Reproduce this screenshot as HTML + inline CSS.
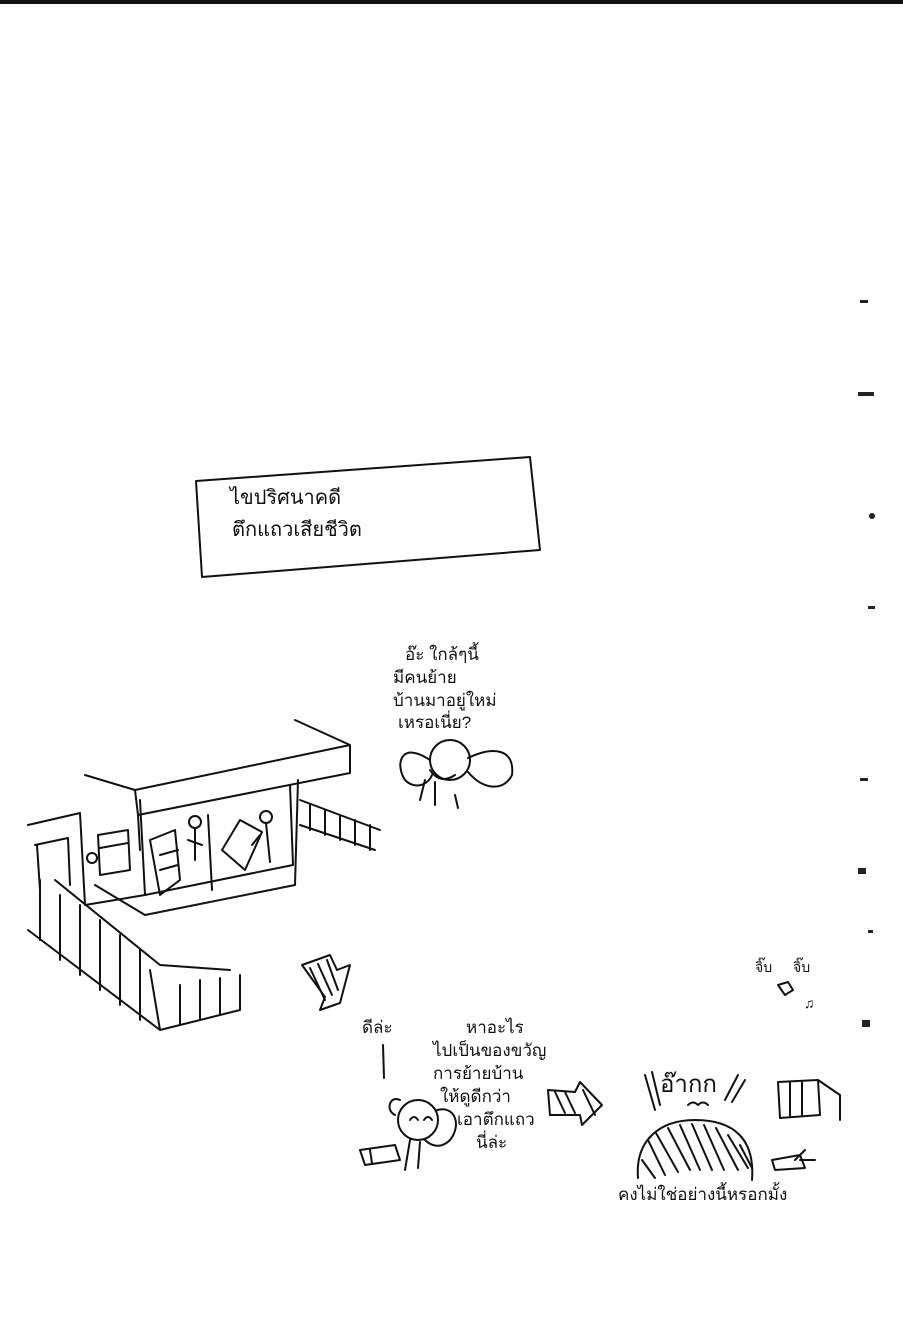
<!DOCTYPE html>
<html><head><meta charset="utf-8">
<style>
html,body{margin:0;padding:0;background:#fff;}
svg{display:block}
text{font-family:"Liberation Sans","DejaVu Sans",sans-serif;fill:#111}
</style></head>
<body>
<svg width="903" height="1320" viewBox="0 0 903 1320" xmlns="http://www.w3.org/2000/svg">
<rect width="903" height="1320" fill="#fefefe"/>
<rect x="0" y="0" width="903" height="4" fill="#111"/>
<g fill="#222">
<rect x="860" y="300" width="8" height="3"/><rect x="858" y="392" width="16" height="4"/>
<circle cx="872" cy="516" r="3"/><rect x="868" y="606" width="7" height="3"/>
<rect x="860" y="778" width="8" height="3"/><rect x="858" y="868" width="8" height="6"/>
<rect x="868" y="930" width="5" height="3"/><rect x="862" y="1020" width="8" height="7"/>
</g>
<g fill="none" stroke="#111" stroke-width="2" stroke-linecap="round" stroke-linejoin="round">
<path d="M196 481 L530 457 L540 550 L202 577 Z"/>
<path d="M295 720 L350 745 L350 773 L138 815 L135 790 L350 745"/>
<path d="M85 775 L135 790"/>
<path d="M138 815 L140 850"/>
<path d="M28 825 L80 813 M80 813 L85 905"/>
<path d="M35 845 L68 838 L70 885 M37 845 L40 890"/>
<path d="M85 905 L145 895 L293 865 L290 785 M145 895 L140 800"/>
<path d="M95 885 L145 915 L295 885 L298 780"/>
<path d="M208 815 L212 890"/>
<path d="M300 800 L380 830 M300 825 L375 850 M310 805 L310 830 M325 810 L325 835 M340 815 L340 840 M355 820 L355 845 M370 825 L370 850"/>
<path d="M28 930 L160 1030 L240 1010 L240 975 M150 970 L160 1030"/>
<path d="M55 880 L160 965 L230 970"/>
<path d="M40 880 L40 940 M60 895 L60 960 M80 905 L80 975 M100 920 L100 990 M120 935 L120 1005 M140 950 L140 1020 M180 985 L180 1025 M200 980 L200 1020 M220 978 L220 1015"/>
<path d="M98 835 L128 830 L130 870 L100 875 Z M100 848 L128 843"/>
<circle cx="92" cy="858" r="5"/>
<path d="M150 840 L175 830 L180 880 L160 895 Z M160 855 L178 850 M160 870 L178 865"/>
<circle cx="195" cy="822" r="6"/><path d="M195 828 L195 860 M188 840 L202 845"/>
<path d="M222 850 L240 820 L262 832 L245 870 Z"/><circle cx="266" cy="817" r="6"/><path d="M266 823 L270 862 M260 835 L252 845"/>
<circle cx="450" cy="760" r="20"/>
<path d="M430 760 C400 740 395 765 405 780 C415 790 428 785 432 775"/>
<path d="M468 758 C495 745 515 750 512 775 C505 790 485 792 468 772"/>
<path d="M430 770 Q440 785 455 775"/>
<path d="M425 780 L420 800 M435 782 L435 805 M455 795 L458 808"/>
<path d="M302 965 L330 955 L337 970 L350 965 L340 1003 L320 1010 L325 997 Z"/>
<path d="M310 968 L325 1000 M318 964 L332 995 M327 960 L338 990"/>
<path d="M548 1090 L575 1092 L580 1082 L602 1105 L582 1125 L580 1115 L550 1115 Z"/>
<path d="M555 1092 L565 1113 M565 1092 L575 1113 M583 1090 L595 1115"/>
<circle cx="418" cy="1120" r="20"/>
<path d="M410 1120 q4 -6 8 0 M424 1120 q4 -6 8 0"/>
<path d="M437 1110 C455 1105 462 1125 450 1140 C440 1150 430 1145 425 1140"/>
<path d="M400 1100 C390 1095 385 1110 395 1115"/>
<path d="M360 1150 L395 1145 L400 1160 L365 1165 Z M370 1150 L372 1163"/>
<path d="M410 1140 L405 1170 M420 1142 L418 1168"/>
<path d="M383 1045 L384 1078"/>
<path d="M638 1178 C635 1140 660 1120 695 1120 C735 1120 755 1140 752 1180"/>
<path d="M648 1140 L665 1175 M656 1133 L678 1172 M668 1128 L690 1170 M680 1125 L700 1170 M692 1124 L712 1170 M704 1125 L724 1170 M716 1128 L738 1170 M728 1135 L748 1168 M740 1145 L752 1168 M642 1160 L655 1178"/>
<path d="M645 1075 L655 1110 M652 1072 L660 1105 M738 1075 L725 1100 M745 1080 L732 1102"/>
<path d="M688 1105 q5 -5 10 0 q5 -5 10 0"/>
<path d="M778 1082 L818 1080 L820 1115 L780 1118 Z M790 1082 L790 1116 M802 1081 L802 1116 M818 1080 L840 1095 L840 1120"/>
<path d="M772 1160 L800 1155 L805 1168 L775 1170 Z M800 1160 L815 1160 M805 1150 L795 1160"/>
<path d="M778 985 l10 -3 l5 8 l-8 5 z"/>
</g>
<g font-size="17">
<text x="230" y="504" font-size="20">ไขปริศนาคดี</text>
<text x="232" y="536" font-size="20">ตึกแถวเสียชีวิต</text>
<text x="405" y="660">อ๊ะ ใกล้ๆนี้</text>
<text x="393" y="683">มีคนย้าย</text>
<text x="393" y="706">บ้านมาอยู่ใหม่</text>
<text x="398" y="728">เหรอเนี่ย?</text>
<text x="362" y="1033">ดีล่ะ</text>
<text x="466" y="1033">หาอะไร</text>
<text x="433" y="1056">ไปเป็นของขวัญ</text>
<text x="433" y="1079">การย้ายบ้าน</text>
<text x="440" y="1102">ให้ดูดีกว่า</text>
<text x="457" y="1125">เอาตึกแถว</text>
<text x="476" y="1148">นี่ล่ะ</text>
<text x="660" y="1092" font-size="24">อ๊ากก</text>
<text x="618" y="1200">คงไม่ใช่อย่างนี้หรอกมั้ง</text>
<text x="755" y="972" font-size="14">จิ๊บ</text>
<text x="793" y="972" font-size="14">จิ๊บ</text>
<text x="804" y="1008" font-size="14">♫</text>
</g>
</svg>
</body></html>
